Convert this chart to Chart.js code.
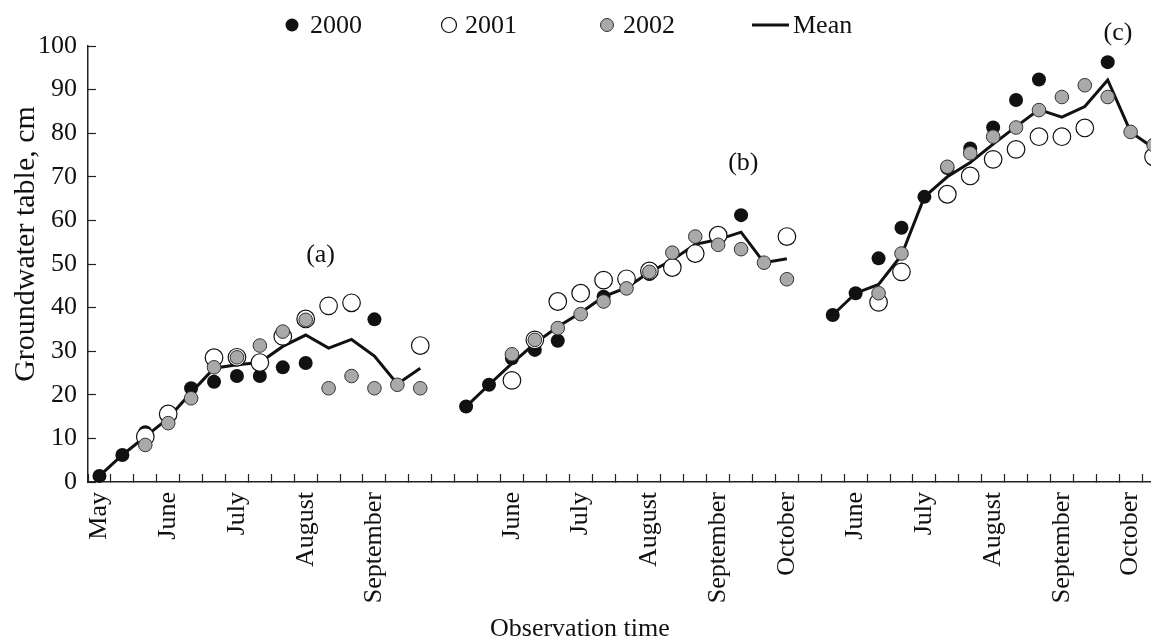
<!DOCTYPE html>
<html>
<head>
<meta charset="utf-8">
<script src="https://cdn.jsdelivr.net/npm/chart.js@4.4.1/dist/chart.umd.min.js"></script>
<style>
  html, body { margin: 0; padding: 0; background: #fff; overflow: hidden; }
  #wrap { position: relative; width: 1180px; height: 640px; }
</style>
</head>
<body>
<div id="wrap"><canvas id="gw"></canvas></div>
<script>
// one category per ten-day period, three seasons side by side
const tickLabels = [
    'May', '', '', 'June', '', '', 'July', '', '', 'August', '', '', 'September', '', '',
    '', '', '', 'June', '', '', 'July', '', '', 'August', '', '', 'September', '', '', 'October',
    '', '', 'June', '', '', 'July', '', '', 'August', '', '', 'September', '', '', 'October', ''
];

const year2000 = [
    1.4, 6.2, 11.4, null, 21.5, 23.0, 24.3, 24.3, 26.3, 27.3, null, null, 37.3, null, null,
    null, 17.3, 22.3, 28.4, 30.3, 32.4, null, 42.5, null, 47.7, null, null, null, 61.2, null, null,
    null, 38.3, 43.3, 51.3, 58.3, 65.4, 72.0, 76.5, 81.3, 87.6, 92.3, null, null, 96.3, null, null
];

const year2001 = [
    null, null, 10.4, 15.6, null, 28.5, 28.6, 27.4, 33.4, 37.4, 40.4, 41.1, null, null, 31.3,
    null, null, null, 23.3, 32.6, 41.4, 43.3, 46.3, 46.6, 48.4, 49.2, 52.4, 56.6, null, null, 56.3,
    null, null, null, 41.2, 48.2, null, 66.0, 70.2, 74.0, 76.3, 79.2, 79.2, 81.2, null, null, 74.6
];

const year2002 = [
    null, null, 8.5, 13.5, 19.2, 26.3, 28.6, 31.3, 34.5, 37.2, 21.5, 24.3, 21.5, 22.3, 21.5,
    null, null, null, 29.3, 32.6, 35.3, 38.5, 41.4, 44.4, 48.2, 52.6, 56.3, 54.4, 53.4, 50.3, 46.5,
    null, null, null, 43.3, 52.4, null, 72.3, 75.4, 79.2, 81.3, 85.3, 88.3, 91.0, 88.3, 80.3, 77.3
];

const meanLevel = [
    1.4, 6.2, 10.4, 14.6, 20.5, 26.1, 26.9, 27.4, 31.1, 33.7, 30.7, 32.7, 28.9, 22.5, 26.1,
    null, 17.3, 22.3, 27.2, 31.8, 35.6, 38.8, 42.5, 44.6, 48.1, 50.9, 54.5, 55.6, 57.3, 50.3, 51.2,
    null, 38.3, 43.3, 45.3, 52.0, 65.4, 70.0, 73.3, 77.5, 81.5, 85.4, 83.7, 86.1, 92.2, 80.3, 76.6
];

const seriesNames = ['2000', '2001', '2002', 'Mean'];
const panelTags = ['(a)', '(b)', '(c)'];

const serif = '"Liberation Serif", "Times New Roman", serif';
const ink = '#111';

// legend, panel tags and axis titles, placed like the printed figure
const paperText = {
    id: 'paperText',
    afterDraw(chart) {
        const { ctx } = chart;
        const xs = chart.scales.x;
        const ys = chart.scales.y;
        ctx.save();
        ctx.fillStyle = ink;
        ctx.strokeStyle = ink;
        ctx.textBaseline = 'middle';
        ctx.textAlign = 'left';
        ctx.font = '26px ' + serif;

        // panel tags sit at (category, value) spots
        const tagAt = [[9.65, 52.1], [28.1, 73.1], [44.45, 103]];
        ctx.textAlign = 'center';
        panelTags.forEach((t, i) => {
            ctx.fillText(t, xs.getPixelForValue(tagAt[i][0]), ys.getPixelForValue(tagAt[i][1]));
        });

        // legend
        const ly = 25;
        const markX = [292, 449, 607];
        const textX = [310, 465, 623, 793];
        ctx.textAlign = 'left';
        // 2000
        ctx.beginPath(); ctx.arc(markX[0], ly, 6.5, 0, Math.PI * 2); ctx.fill();
        // 2001
        ctx.beginPath(); ctx.arc(markX[1], ly, 7.5, 0, Math.PI * 2);
        ctx.fillStyle = '#fff'; ctx.fill(); ctx.lineWidth = 1.2; ctx.stroke();
        // 2002
        ctx.beginPath(); ctx.arc(markX[2], ly, 6.5, 0, Math.PI * 2);
        ctx.fillStyle = '#a9a9a9'; ctx.fill(); ctx.lineWidth = 1; ctx.strokeStyle = '#333'; ctx.stroke();
        // mean
        ctx.beginPath(); ctx.moveTo(752, ly); ctx.lineTo(789, ly);
        ctx.lineWidth = 3; ctx.strokeStyle = ink; ctx.stroke();
        ctx.fillStyle = ink;
        seriesNames.forEach((n, i) => ctx.fillText(n, textX[i], ly + 1));

        // axis titles
        ctx.textBaseline = 'alphabetic';
        ctx.fillText('Observation time', 490, 636);
        ctx.save();
        ctx.translate(34, 244);
        ctx.rotate(-Math.PI / 2);
        ctx.textAlign = 'center';
        ctx.font = '30px ' + serif;
        ctx.fillText('Groundwater table, cm', 0, 0);
        ctx.restore();

        ctx.restore();
    }
};

const dotSet = (label, data, radius, fill, edge, edgeWidth, order) => ({
    label,
    data,
    showLine: false,
    pointStyle: 'circle',
    pointRadius: radius,
    pointHoverRadius: radius,
    pointBackgroundColor: fill,
    pointBorderColor: edge,
    pointBorderWidth: edgeWidth,
    borderColor: edge,
    backgroundColor: fill,
    clip: false,
    order,
});

new Chart(document.getElementById('gw'), {
    type: 'line',
    data: {
        labels: tickLabels,
        datasets: [
            dotSet(seriesNames[0], year2000, 7, ink, ink, 0, 3),
            dotSet(seriesNames[1], year2001, 8.8, '#fff', ink, 1.2, 2),
            dotSet(seriesNames[2], year2002, 6.8, '#a9a9a9', '#333', 1, 1),
            {
                label: seriesNames[3],
                data: meanLevel,
                borderColor: ink,
                borderWidth: 3,
                pointRadius: 0,
                tension: 0,
                spanGaps: false,
                clip: false,
                order: 4,
            }
        ]
    },
    options: {
        responsive: true,
        maintainAspectRatio: false,
        animation: false,
        events: [],
        layout: { padding: { top: 46, right: 15, left: 0, bottom: 0 } },
        plugins: {
            legend: { display: false },
            tooltip: { enabled: false },
        },
        scales: {
            x: {
                type: 'category',
                offset: true,
                grid: {
                    offset: true,
                    drawOnChartArea: false,
                    tickLength: -8,
                    tickColor: '#222',
                    tickWidth: 1.2,
                },
                border: { color: '#222', width: 1.5 },
                ticks: {
                    autoSkip: false,
                    minRotation: 90,
                    maxRotation: 90,
                    padding: 18,
                    color: ink,
                    font: { family: serif, size: 26 },
                },
                afterFit: (scale) => {
                    scale.height = 158;
                    scale.paddingLeft = 0;
                    scale.paddingRight = 0;
                },
            },
            y: {
                min: 0,
                max: 100,
                grid: {
                    drawOnChartArea: false,
                    tickLength: -8,
                    tickColor: '#222',
                    tickWidth: 1.2,
                },
                border: { color: '#222', width: 1.5 },
                ticks: {
                    stepSize: 10,
                    padding: 19,
                    color: ink,
                    font: { family: serif, size: 26 },
                },
                afterFit: (scale) => {
                    scale.width = 88;
                },
            }
        }
    },
    plugins: [paperText]
});
</script>
</body>
</html>
